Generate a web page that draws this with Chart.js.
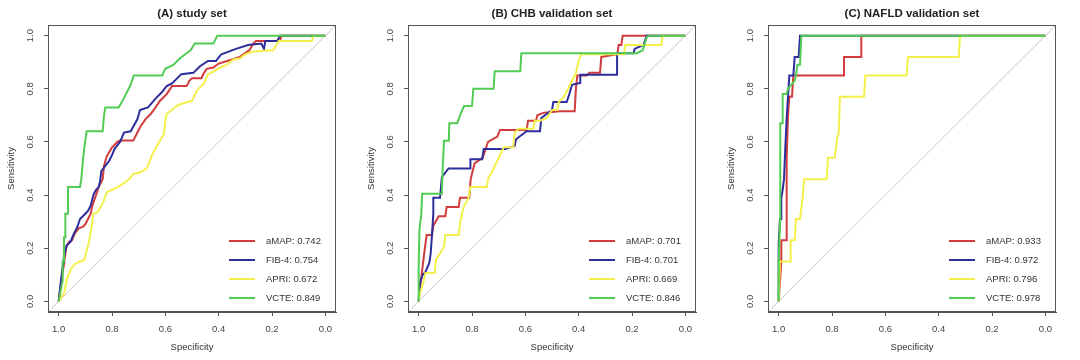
<!DOCTYPE html>
<html>
<head>
<meta charset="utf-8">
<script src="https://cdn.jsdelivr.net/npm/chart.js@4.4.0/dist/chart.umd.min.js"></script>
<style>
  body { margin: 0; background: #fff; }
  .row { display: flex; width: 1080px; height: 360px; }
  canvas { display: block; }
</style>
</head>
<body>
<div class="row">
  <canvas id="rocA" width="360" height="360"></canvas>
  <canvas id="rocB" width="360" height="360"></canvas>
  <canvas id="rocC" width="360" height="360"></canvas>
</div>
<script>
const models = ['aMAP', 'FIB-4', 'APRI', 'VCTE'];
const colors = ['#d23b3b', '#2d2d9c', '#f3f04c', '#52cc52'];
const titles = ['(A) study set', '(B) CHB validation set', '(C) NAFLD validation set'];
const tickValues = [0, 0.2, 0.4, 0.6, 0.8, 1.0];
const FONT = '"Liberation Sans", Arial, sans-serif';

const aucA = [0.742, 0.754, 0.672, 0.849];
const aucB = [0.701, 0.701, 0.669, 0.846];
const aucC = [0.933, 0.972, 0.796, 0.978];

// [specificity, sensitivity] points
const rocA_aMAP = [[1,0],[0.99,0.08],[0.98,0.14],[0.975,0.18],[0.97,0.21],[0.96,0.225],[0.95,0.23],[0.94,0.255],[0.925,0.275],[0.91,0.28],[0.9,0.29],[0.89,0.31],[0.88,0.33],[0.875,0.355],[0.86,0.40],[0.85,0.43],[0.835,0.46],[0.83,0.51],[0.82,0.545],[0.8,0.58],[0.78,0.60],[0.77,0.605],[0.72,0.605],[0.71,0.625],[0.695,0.655],[0.675,0.685],[0.655,0.705],[0.64,0.725],[0.62,0.755],[0.595,0.78],[0.575,0.81],[0.52,0.81],[0.51,0.83],[0.5,0.84],[0.465,0.84],[0.455,0.86],[0.445,0.875],[0.42,0.88],[0.40,0.895],[0.35,0.91],[0.32,0.92],[0.30,0.935],[0.285,0.945],[0.27,0.97],[0.26,0.98],[0.17,0.98],[0.165,1.0],[0,1.0]];
const rocA_FIB4 = [[1,0],[0.99,0.09],[0.98,0.17],[0.97,0.21],[0.955,0.225],[0.945,0.25],[0.93,0.28],[0.92,0.31],[0.9,0.33],[0.89,0.34],[0.88,0.36],[0.875,0.38],[0.87,0.40],[0.86,0.42],[0.85,0.43],[0.845,0.45],[0.84,0.49],[0.825,0.51],[0.81,0.53],[0.80,0.55],[0.79,0.575],[0.77,0.60],[0.755,0.635],[0.73,0.64],[0.705,0.685],[0.695,0.72],[0.665,0.73],[0.635,0.765],[0.615,0.785],[0.595,0.81],[0.575,0.82],[0.555,0.84],[0.54,0.855],[0.495,0.86],[0.47,0.885],[0.44,0.905],[0.41,0.905],[0.39,0.93],[0.335,0.95],[0.29,0.965],[0.24,0.97],[0.23,0.95],[0.225,0.98],[0.18,0.98],[0.17,1.0],[0,1.0]];
const rocA_APRI = [[1,0],[0.98,0.03],[0.975,0.055],[0.97,0.08],[0.955,0.12],[0.94,0.14],[0.92,0.15],[0.905,0.155],[0.895,0.19],[0.885,0.23],[0.875,0.29],[0.87,0.33],[0.855,0.335],[0.845,0.35],[0.83,0.38],[0.82,0.41],[0.80,0.42],[0.78,0.43],[0.755,0.445],[0.735,0.46],[0.72,0.48],[0.695,0.485],[0.67,0.50],[0.65,0.55],[0.635,0.58],[0.62,0.605],[0.605,0.63],[0.60,0.68],[0.595,0.705],[0.57,0.725],[0.55,0.74],[0.50,0.755],[0.48,0.795],[0.455,0.82],[0.44,0.855],[0.42,0.865],[0.395,0.88],[0.37,0.89],[0.345,0.91],[0.32,0.915],[0.30,0.93],[0.27,0.94],[0.195,0.945],[0.175,0.98],[0.05,0.98],[0.045,1.0],[0,1.0]];
const rocA_VCTE = [[1,0],[0.985,0.08],[0.985,0.15],[0.98,0.15],[0.98,0.24],[0.975,0.24],[0.975,0.33],[0.965,0.33],[0.965,0.43],[0.92,0.43],[0.915,0.46],[0.91,0.52],[0.905,0.57],[0.895,0.64],[0.835,0.64],[0.83,0.70],[0.825,0.73],[0.775,0.73],[0.755,0.765],[0.73,0.815],[0.718,0.85],[0.612,0.85],[0.6,0.875],[0.57,0.89],[0.545,0.915],[0.525,0.93],[0.505,0.945],[0.49,0.97],[0.42,0.97],[0.405,1.0],[0,1.0]];

const rocB_aMAP = [[1,0],[0.99,0.09],[0.98,0.175],[0.97,0.25],[0.95,0.25],[0.945,0.285],[0.925,0.32],[0.9,0.32],[0.895,0.355],[0.85,0.355],[0.845,0.39],[0.81,0.39],[0.805,0.46],[0.79,0.52],[0.76,0.54],[0.74,0.60],[0.705,0.62],[0.695,0.645],[0.595,0.645],[0.59,0.68],[0.56,0.68],[0.555,0.70],[0.53,0.71],[0.47,0.715],[0.415,0.715],[0.41,0.805],[0.405,0.85],[0.37,0.85],[0.36,0.86],[0.32,0.86],[0.315,0.92],[0.255,0.93],[0.25,0.965],[0.24,0.965],[0.235,1.0],[0,1.0]];
const rocB_FIB4 = [[1,0],[0.995,0.07],[0.985,0.10],[0.975,0.11],[0.96,0.145],[0.955,0.18],[0.95,0.25],[0.945,0.33],[0.945,0.39],[0.92,0.39],[0.913,0.467],[0.888,0.50],[0.806,0.50],[0.806,0.535],[0.762,0.535],[0.756,0.573],[0.675,0.573],[0.64,0.585],[0.635,0.61],[0.595,0.64],[0.545,0.64],[0.54,0.69],[0.50,0.72],[0.495,0.75],[0.445,0.75],[0.435,0.78],[0.425,0.815],[0.394,0.822],[0.394,0.853],[0.256,0.853],[0.256,0.934],[0.194,0.934],[0.19,0.95],[0.156,0.966],[0.145,1.0],[0,1.0]];
const rocB_APRI = [[1,0],[0.995,0.03],[0.98,0.08],[0.975,0.107],[0.94,0.107],[0.935,0.157],[0.92,0.18],[0.905,0.205],[0.9,0.25],[0.85,0.25],[0.844,0.30],[0.831,0.356],[0.8125,0.39],[0.806,0.43],[0.744,0.43],[0.74,0.46],[0.719,0.50],[0.70,0.54],[0.681,0.58],[0.645,0.58],[0.64,0.635],[0.625,0.65],[0.57,0.65],[0.565,0.68],[0.545,0.68],[0.52,0.69],[0.50,0.72],[0.48,0.72],[0.475,0.75],[0.455,0.77],[0.445,0.79],[0.43,0.82],[0.41,0.86],[0.40,0.905],[0.39,0.93],[0.23,0.93],[0.225,0.965],[0.09,0.965],[0.085,1.0],[0,1.0]];
const rocB_VCTE = [[1,0],[1,0.13],[0.997,0.27],[0.99,0.33],[0.987,0.405],[0.913,0.405],[0.91,0.50],[0.905,0.604],[0.887,0.604],[0.885,0.67],[0.855,0.67],[0.845,0.70],[0.83,0.735],[0.80,0.735],[0.795,0.80],[0.719,0.80],[0.715,0.866],[0.619,0.866],[0.615,0.934],[0.181,0.934],[0.16,0.945],[0.144,0.996],[0.13,1.0],[0,1.0]];

const rocC_aMAP = [[1,0],[0.99,0.15],[0.99,0.23],[0.97,0.23],[0.97,0.54],[0.965,0.70],[0.96,0.77],[0.95,0.77],[0.945,0.85],[0.755,0.85],[0.755,0.92],[0.69,0.92],[0.69,1.0],[0,1.0]];
const rocC_FIB4 = [[1,0],[1,0.22],[0.995,0.31],[0.99,0.31],[0.99,0.39],[0.985,0.42],[0.98,0.46],[0.975,0.58],[0.97,0.69],[0.965,0.77],[0.96,0.85],[0.945,0.85],[0.94,0.92],[0.925,0.92],[0.92,1.0],[0,1.0]];
const rocC_APRI = [[1,0],[0.995,0.15],[0.955,0.15],[0.955,0.23],[0.94,0.23],[0.935,0.31],[0.92,0.31],[0.91,0.39],[0.905,0.46],[0.82,0.46],[0.815,0.54],[0.79,0.54],[0.78,0.62],[0.775,0.63],[0.77,0.77],[0.68,0.77],[0.675,0.85],[0.52,0.85],[0.515,0.92],[0.325,0.92],[0.32,1.0],[0,1.0]];
const rocC_VCTE = [[1,0],[1,0.15],[0.995,0.30],[0.995,0.45],[0.993,0.67],[0.987,0.67],[0.985,0.78],[0.97,0.78],[0.965,0.80],[0.94,0.83],[0.935,0.85],[0.93,0.89],[0.92,0.89],[0.915,1.0],[0,1.0]];

const chanceLine = [[1.04,-0.04],[-0.04,1.04]];

// box, title, rotated y labels and legend
const rocDecor = {
  id: 'rocDecor',
  afterDraw(chart, args, opts) {
    const {ctx, chartArea: a} = chart;
    const y = chart.scales.y;
    ctx.save();
    ctx.strokeStyle = '#555';
    ctx.lineWidth = 1;
    ctx.strokeRect(a.left + 0.5, a.top + 0.5, a.right - a.left - 1, a.bottom - a.top - 1);

    ctx.fillStyle = '#222';
    ctx.font = 'bold 11.5px ' + FONT;
    ctx.textAlign = 'center';
    ctx.textBaseline = 'middle';
    ctx.fillText(opts.title, (a.left + a.right) / 2, 14);

    ctx.font = '9.5px ' + FONT;
    ctx.fillStyle = '#444';
    y.ticks.forEach(t => {
      ctx.save();
      ctx.translate(30, y.getPixelForValue(t.value));
      ctx.rotate(-Math.PI / 2);
      ctx.fillText(t.value.toFixed(1), 0, 0);
      ctx.restore();
    });

    ctx.textAlign = 'left';
    opts.aucs.forEach((auc, i) => {
      const ly = a.bottom - 71 + i * 19;
      ctx.strokeStyle = colors[i];
      ctx.lineWidth = 2;
      ctx.beginPath();
      ctx.moveTo(a.right - 107, ly);
      ctx.lineTo(a.right - 81, ly);
      ctx.stroke();
      ctx.fillStyle = '#333';
      ctx.fillText(models[i] + ': ' + auc.toFixed(3), a.right - 70, ly);
    });
    ctx.restore();
  }
};

function toXY(pts) {
  return pts.map(p => ({ x: p[0], y: p[1] }));
}

function drawRoc(id, title, curves, aucs) {
  const datasets = curves.map((c, i) => ({
    label: models[i],
    data: toXY(c),
    borderColor: colors[i],
    borderWidth: 2,
    pointRadius: 0,
    tension: 0,
    fill: false,
    order: 4 - i
  }));
  datasets.push({
    label: 'chance',
    data: toXY(chanceLine),
    borderColor: '#c8c8c8',
    borderWidth: 1,
    pointRadius: 0,
    fill: false,
    order: 10
  });

  const axisBase = {
    type: 'linear',
    min: -0.04,
    max: 1.04,
    afterBuildTicks: s => { s.ticks = tickValues.map(v => ({ value: v })); },
    grid: { drawOnChartArea: false, drawTicks: true, tickLength: 4, color: '#555' },
    border: { display: true, color: '#555' }
  };

  new Chart(document.getElementById(id), {
    type: 'line',
    data: { datasets },
    options: {
      responsive: false,
      animation: false,
      devicePixelRatio: 1,
      layout: { padding: { top: 25, right: 24, left: 0, bottom: 0 } },
      plugins: {
        legend: { display: false },
        tooltip: { enabled: false },
        rocDecor: { title, aucs }
      },
      scales: {
        x: {
          ...axisBase,
          reverse: true,
          ticks: { callback: v => v.toFixed(1), font: { size: 9.5, family: FONT }, color: '#444', padding: 8, maxRotation: 0, autoSkip: false },
          title: { display: true, text: 'Specificity', font: { size: 9.5, family: FONT }, color: '#333', padding: { top: 0, bottom: 7 } },
          afterFit: s => { s.height = 48; }
        },
        y: {
          ...axisBase,
          ticks: { callback: () => '', autoSkip: false },
          title: { display: true, text: 'Sensitivity', font: { size: 9.5, family: FONT }, color: '#333', padding: { top: 6, bottom: 0 } },
          afterFit: s => { s.width = 48; }
        }
      }
    },
    plugins: [rocDecor]
  });
}

drawRoc('rocA', titles[0], [rocA_aMAP, rocA_FIB4, rocA_APRI, rocA_VCTE], aucA);
drawRoc('rocB', titles[1], [rocB_aMAP, rocB_FIB4, rocB_APRI, rocB_VCTE], aucB);
drawRoc('rocC', titles[2], [rocC_aMAP, rocC_FIB4, rocC_APRI, rocC_VCTE], aucC);
</script>
</body>
</html>
